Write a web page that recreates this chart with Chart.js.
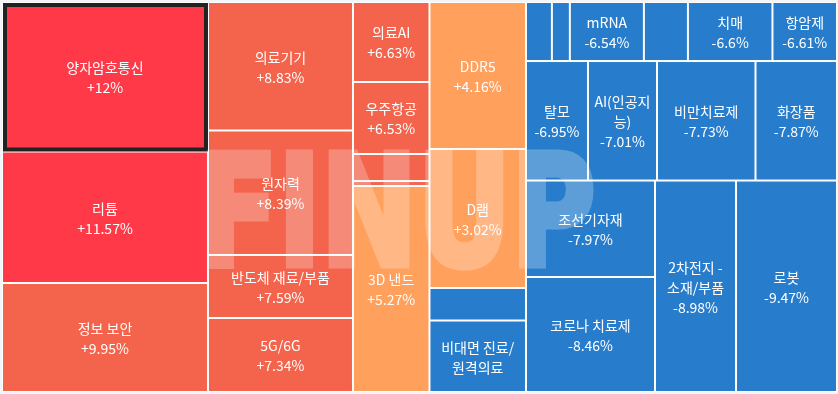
<!DOCTYPE html>
<html>
<head>
<meta charset="utf-8">
<script src="https://cdn.jsdelivr.net/npm/chart.js@4"></script>
<style>
  html, body { margin: 0; padding: 0; background: #f4f5f9; }
  #wrap { width: 838px; height: 394px; position: relative; }
</style>
</head>
<body>
<div id="wrap"><canvas id="c"></canvas></div>
<script>
// ---- data (sorted by change, descending) ----
const categories = [
  '양자암호통신', '리튬', '정보 보안',
  '의료기기', '원자력', '반도체 재료/부품', '5G/6G',
  '의료AI', '우주항공', '', '', '3D 낸드',
  'DDR5', 'D램', '', '비대면 진료/원격의료',
  '', '', 'mRNA', '', '치매', '항암제',
  '탈모', 'AI(인공지능)', '비만치료제', '화장품',
  '조선기자재', '코로나 치료제',
  '2차전지 - 소재/부품', '로봇'
];
// % change (unlabeled cells estimated from their colour and sort position)
const changes = [
  12, 11.57, 9.95,
  8.83, 8.39, 7.59, 7.34,
  6.63, 6.53, 6.45, 6.4, 5.27,
  4.16, 3.02, -5.1, -5.6,
  -6.2, -6.4, -6.54, -6.57, -6.6, -6.61,
  -6.95, -7.01, -7.73, -7.87,
  -7.97, -8.46,
  -8.98, -9.47
];
// treemap weights (cell sizes)
const sizes = [
  3080, 2709, 2245,
  1863, 1805, 914, 1073,
  612, 551, 207, 38, 1576,
  1419, 1341, 314, 690,
  153, 106, 437, 260, 499, 381,
  741, 825, 1177, 974,
  1245, 1484,
  1713, 2136
];
// how many cells go in each squarified row/column strip
const rowCounts = [3, 4, 5, 4, 6, 4, 2, 2];
const highlighted = '양자암호통신';
const watermark = 'FINUP';

function colorFor(v) {
  if (v >= 10) return '#FF3947';
  if (v >= 6) return '#F4634B';
  if (v >= 0) return '#FFA05C';
  return '#277DCC';
}
function fmt(v) { return (v > 0 ? '+' : '') + v + '%'; }

function layout(weights, rows, aspect) {
  let x0 = 0, y0 = 0, x1 = 1, y1 = 1;
  const rects = [];
  let i = 0;
  for (const n of rows) {
    const items = weights.slice(i, i + n);
    const s = items.reduce((a, b) => a + b, 0);
    const rem = weights.slice(i).reduce((a, b) => a + b, 0);
    const frac = s / rem;
    const wPx = (x1 - x0) * aspect, hPx = (y1 - y0);
    if (wPx >= hPx) {
      const xm = x0 + (x1 - x0) * frac;
      let yy = y0;
      items.forEach(w => { const h = (y1 - y0) * w / s; rects.push({x0: x0, x1: xm, y0: yy, y1: yy + h}); yy += h; });
      x0 = xm;
    } else {
      const ym = y0 + (y1 - y0) * frac;
      let xx = x0;
      items.forEach(w => { const ww = (x1 - x0) * w / s; rects.push({x0: xx, x1: xx + ww, y0: y0, y1: ym}); xx += ww; });
      y0 = ym;
    }
    i += n;
  }
  return rects;
}

// wrap at spaces / after '/', falling back to character breaks
function wrap(ctx, text, maxW) {
  if (!text) return [];
  const tokens = text.match(/[^ \/]+\/?\s*|\/\s*|\s+/g) || [text];
  const fits = s => ctx.measureText(s.trim()).width <= maxW;
  const lines = [];
  let cur = '';
  for (const tok of tokens) {
    if (fits(cur + tok)) { cur += tok; continue; }
    if (cur.trim()) { lines.push(cur.trim()); cur = ''; }
    if (fits(tok)) { cur = tok; continue; }
    for (const ch of tok) {
      if (cur && !fits(cur + ch)) { lines.push(cur.trim()); cur = ch; }
      else cur += ch;
    }
  }
  if (cur.trim()) lines.push(cur.trim());
  return lines;
}

const treemapPlugin = {
  id: 'treemapCells',
  afterDatasetsDraw(chart) {
    const {ctx, chartArea: ca, scales} = chart;
    const xs = scales.x, ys = scales.y;
    const aspect = ca.width / ca.height;
    const rects = layout(sizes, rowCounts, aspect);
    ctx.save();
    ctx.fillStyle = '#ffffff';
    ctx.fillRect(ca.left, ca.top, ca.width, ca.height);
    const px = rects.map(r => {
      const L = xs.getPixelForValue(r.x0), R = xs.getPixelForValue(r.x1);
      const T = ys.getPixelForValue(r.y0), B = ys.getPixelForValue(r.y1);
      return {x: L + 1, y: T + 1, w: R - L - 2, h: B - T - 2};
    });
    px.forEach((p, i) => {
      ctx.fillStyle = colorFor(changes[i]);
      ctx.fillRect(p.x, p.y, p.w, p.h);
      if (categories[i] === highlighted) {
        ctx.strokeStyle = '#222222';
        ctx.lineWidth = 4;
        ctx.strokeRect(p.x + 2, p.y + 2, p.w - 3, p.h - 3);
      }
    });
    // watermark (drawn opaque offscreen, then composited translucent)
    const off = document.createElement('canvas');
    off.width = chart.width; off.height = chart.height;
    const oc = off.getContext('2d');
    const capH = ca.height * 0.285;
    const wmW = ca.width * 0.475;
    const wmLeft = ca.left + ca.width * 0.236;
    const wmBase = ca.top + ca.height * 0.674;
    oc.font = `bold ${capH / 0.729}px "DejaVu Sans"`;
    const tw = oc.measureText(watermark).width;
    oc.translate(wmLeft, wmBase);
    oc.scale(wmW / tw, 1);
    oc.fillStyle = '#ffffff';
    oc.strokeStyle = '#ffffff';
    oc.lineWidth = 7;
    oc.lineJoin = 'miter';
    oc.textAlign = 'left';
    oc.textBaseline = 'alphabetic';
    oc.fillText(watermark, 0, 0);
    oc.strokeText(watermark, 0, 0);
    ctx.globalAlpha = 0.25;
    ctx.drawImage(off, 0, 0, chart.width, chart.height);
    ctx.globalAlpha = 1;
    // labels
    ctx.font = '14px "Noto Sans CJK KR"';
    ctx.fillStyle = '#ffffff';
    ctx.textAlign = 'center';
    ctx.textBaseline = 'middle';
    const lh = 20, pad = 6;
    px.forEach((p, i) => {
      const lines = wrap(ctx, categories[i], p.w - 6);
      if (!lines.length) return;
      const all = lines.slice();
      if ((lines.length + 1) * lh + 2 * pad <= p.h) all.push(fmt(changes[i]));
      else if (lines.length * lh + 2 * pad > p.h) return;
      const cx = p.x + p.w / 2, cy = p.y + p.h / 2 + 1;
      const start = cy - (all.length - 1) * lh / 2;
      all.forEach((t, k) => ctx.fillText(t, cx, start + k * lh));
    });
    ctx.restore();
  }
};

new Chart(document.getElementById('c'), {
  type: 'scatter',
  data: { datasets: [{ label: 'themes', data: [], pointRadius: 0 }] },
  options: {
    responsive: true,
    maintainAspectRatio: false,
    animation: false,
    layout: { padding: { left: 2, right: 1, top: 2, bottom: 2 } },
    plugins: { legend: { display: false }, tooltip: { enabled: false } },
    scales: {
      x: { type: 'linear', min: 0, max: 1, display: false },
      y: { type: 'linear', min: 0, max: 1, reverse: true, display: false }
    }
  },
  plugins: [treemapPlugin]
});
</script>
</body>
</html>
